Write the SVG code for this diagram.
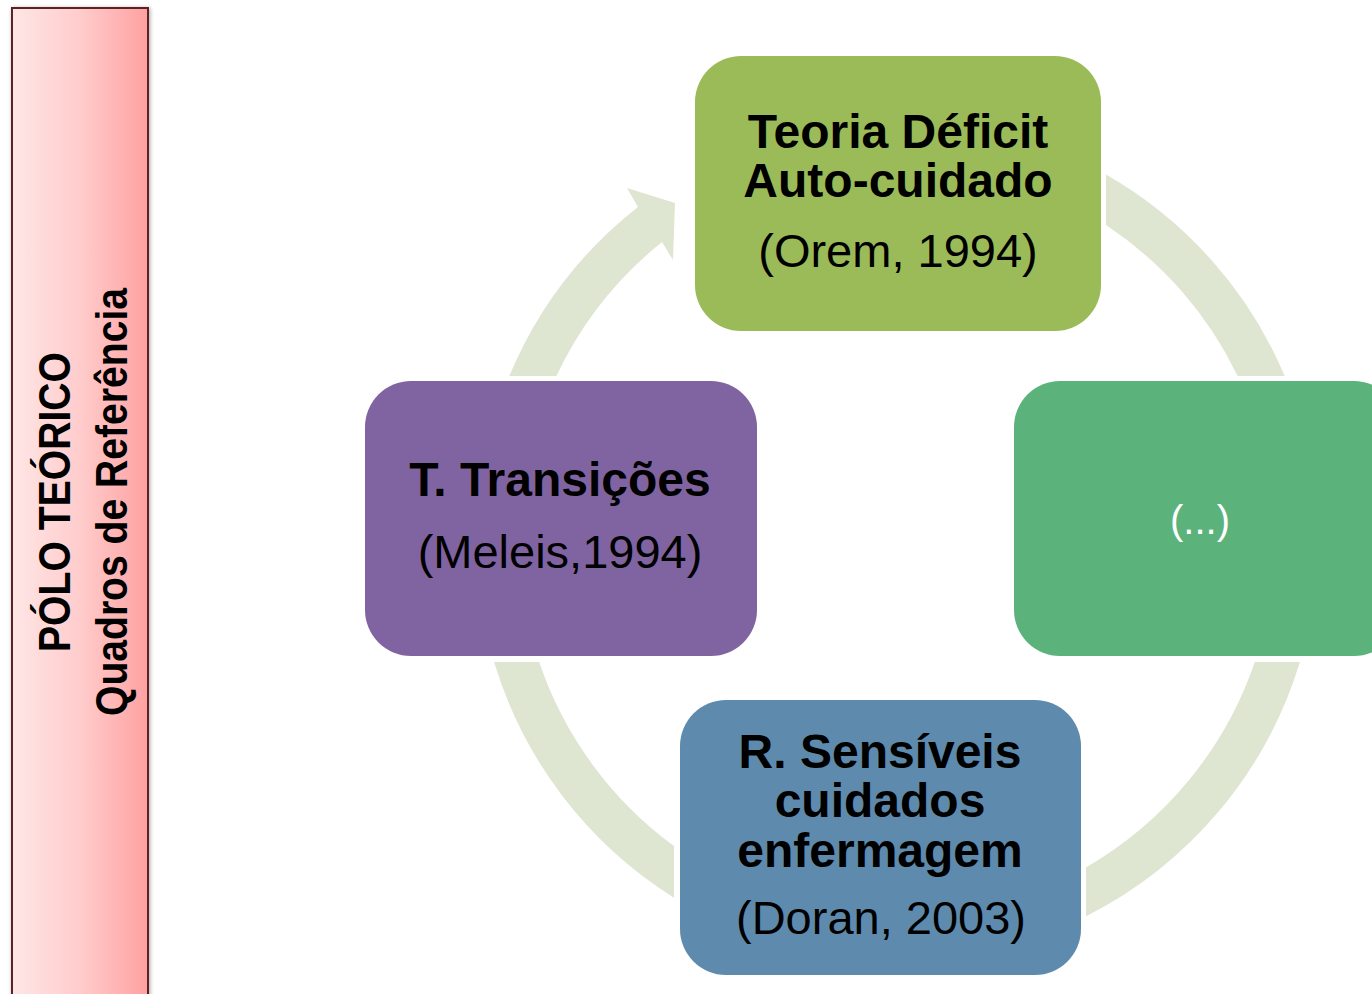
<svg xmlns="http://www.w3.org/2000/svg" width="1372" height="994" viewBox="0 0 1372 994">
<defs>
<linearGradient id="barGrad" x1="0" y1="0" x2="1" y2="0">
<stop offset="0" stop-color="#ffe6e6"/>
<stop offset="0.5" stop-color="#ffcccc"/>
<stop offset="1" stop-color="#ffa1a1"/>
</linearGradient>
<filter id="shadow" x="-10%" y="-5%" width="120%" height="110%">
<feGaussianBlur in="SourceAlpha" stdDeviation="2"/>
<feOffset dx="1" dy="1"/>
<feComponentTransfer><feFuncA type="linear" slope="0.35"/></feComponentTransfer>
<feMerge><feMergeNode/><feMergeNode in="SourceGraphic"/></feMerge>
</filter>
</defs>
<style>
.arc{fill:#dee6d1;stroke:none}
.b{font-family:"Liberation Sans",Arial,sans-serif;font-weight:bold;font-size:48px;fill:#000;text-anchor:middle}
.r{font-family:"Liberation Sans",Arial,sans-serif;font-size:47px;fill:#000;text-anchor:middle}
.side{font-family:"Liberation Sans",Arial,sans-serif;font-weight:bold;font-size:45px;fill:#000;text-anchor:middle}
</style>
<rect width="1372" height="994" fill="#ffffff"/>

<g id="side-bar">
<rect x="12" y="8" width="136" height="1000" fill="url(#barGrad)" stroke="#5e2220" stroke-width="2" filter="url(#shadow)"/>
<text class="side" transform="translate(70,502) rotate(-90)" textLength="300" lengthAdjust="spacingAndGlyphs">PÓLO TEÓRICO</text>
<text class="side" transform="translate(127,502) rotate(-90)" textLength="428" lengthAdjust="spacingAndGlyphs">Quadros de Referência</text>
</g>

<g id="connectors">
<path class="arc" d="M 509.3,376 A 421 421 0 0 1 638,207 L 627,188 L 675,203 L 673,260 L 662,242 A 378 378 0 0 0 556.4,376 Z"/>
<path class="arc" d="M 1106,174.5 A 421 421 0 0 1 1284.7,376 L 1237.6,376 A 378 378 0 0 0 1106,225 Z"/>
<path class="arc" d="M 1299.9,662 A 421 421 0 0 1 1086,916.2 L 1086,867.4 A 378 378 0 0 0 1254.8,662 Z"/>
<path class="arc" d="M 674,897.7 A 421 421 0 0 1 494.1,662 L 539.2,662 A 378 378 0 0 0 674,846 Z"/>
</g>

<g id="node-orem">
<rect x="695" y="56" width="406" height="275" rx="46" fill="#9bbb59"/>
<text class="b" x="898" y="148">Teoria Déficit</text>
<text class="b" x="898" y="197">Auto-cuidado</text>
<text class="r" x="898" y="267">(Orem, 1994)</text>
</g>

<g id="node-other">
<rect x="1014" y="381" width="386" height="275" rx="46" fill="#5cb27b"/>
<text class="r" x="1200" y="534" style="fill:#ffffff;font-size:40px">(...)</text>
</g>

<g id="node-doran">
<rect x="680" y="700" width="401" height="275" rx="46" fill="#5e8bad"/>
<text class="b" x="880" y="768">R. Sensíveis</text>
<text class="b" x="880" y="817">cuidados</text>
<text class="b" x="880" y="867">enfermagem</text>
<text class="r" x="881" y="934">(Doran, 2003)</text>
</g>

<g id="node-meleis">
<rect x="365" y="381" width="392" height="275" rx="46" fill="#8064a2"/>
<text class="b" x="560" y="496">T. Transições</text>
<text class="r" x="560" y="568">(Meleis,1994)</text>
</g>
</svg>
